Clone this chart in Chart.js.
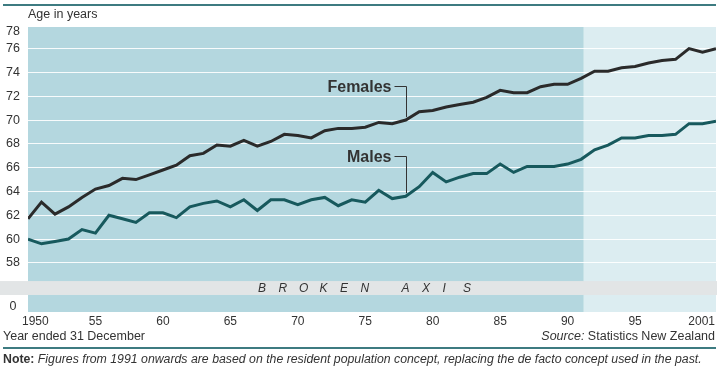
<!DOCTYPE html>
<html><head><meta charset="utf-8">
<style>html,body{margin:0;padding:0;background:#fff;}#wrap{position:relative;width:717px;height:377px;}</style>
<script src="https://cdn.jsdelivr.net/npm/chart.js@4.4.1/dist/chart.umd.min.js"></script>
</head><body><div id="wrap"><canvas id="c"></canvas></div>
<script>
const years = [1950,1951,1952,1953,1954,1955,1956,1957,1958,1959,1960,1961,1962,1963,1964,1965,1966,1967,1968,1969,1970,1971,1972,1973,1974,1975,1976,1977,1978,1979,1980,1981,1982,1983,1984,1985,1986,1987,1988,1989,1990,1991,1992,1993,1994,1995,1996,1997,1998,1999,2000,2001];
const females = [61.7,63.1,62.1,62.7,63.5,64.2,64.5,65.1,65.0,65.4,65.8,66.2,67.0,67.2,67.9,67.8,68.3,67.8,68.2,68.8,68.7,68.5,69.1,69.3,69.3,69.4,69.8,69.7,70.0,70.7,70.8,71.1,71.3,71.5,71.9,72.5,72.3,72.3,72.8,73.0,73.0,73.5,74.1,74.1,74.4,74.5,74.8,75.0,75.1,76.0,75.7,76.0];
const males = [60.0,59.6,59.8,60.0,60.8,60.5,62.0,61.7,61.4,62.2,62.2,61.8,62.7,63.0,63.2,62.7,63.3,62.4,63.3,63.3,62.9,63.3,63.5,62.8,63.3,63.1,64.1,63.4,63.6,64.4,65.6,64.8,65.2,65.5,65.5,66.3,65.6,66.1,66.1,66.1,66.3,66.7,67.5,67.9,68.5,68.5,68.7,68.7,68.8,69.7,69.7,69.9];
const yGridTicks = [58,60,62,64,66,68,70,72,74,76];
const xTickYears = [1950,1955,1960,1965,1970,1975,1980,1985,1990,1995,2001];
const xTickLabels = ['1950','55','60','65','70','75','80','85','90','95','2001'];
const seriesNames = ['Females','Males'];
const splitYear = 1991.2;      // resident population concept from 1991
const labelAnchorYear = 1978;  // where the series labels point

// broken axis: bottom value stands for 0
const Y_MIN = 53.87, Y_MAX = 77.82, ZERO_POS = 54.3, TOP_LABEL_POS = 77.4;
const BAND_LO = 55.3, BAND_HI = 56.47;

const FONT = '"Liberation Sans", Arial, sans-serif';
const TXT = '#333';

const decor = {
  id: 'decor',
  beforeDraw(chart) {
    const {ctx, chartArea: a, scales: {x}} = chart;
    const sx = x.getPixelForValue(splitYear);
    ctx.save();
    ctx.fillStyle = '#b4d7df';
    ctx.fillRect(a.left, a.top, sx - a.left, a.bottom - a.top);
    ctx.fillStyle = '#dcedf1';
    ctx.fillRect(sx, a.top, a.right - sx, a.bottom - a.top);
    ctx.restore();
  },
  beforeDatasetsDraw(chart) {
    const {ctx, scales: {y}} = chart;
    const t = y.getPixelForValue(BAND_HI), b = y.getPixelForValue(BAND_LO);
    ctx.save();
    ctx.fillStyle = '#e2e5e6';
    ctx.fillRect(0, t, chart.width, b - t);
    ctx.fillStyle = TXT;
    ctx.font = 'italic 12px ' + FONT;
    ctx.textBaseline = 'middle';
    ctx.textAlign = 'left';
    const s = 'BROKEN AXIS';
    for (let i = 0; i < s.length; i++) ctx.fillText(s[i], 258 + i * 20.5, (t + b) / 2 + 1);
    ctx.restore();
  },
  afterDatasetsDraw(chart) {
    const {ctx, scales: {x, y}} = chart;
    const i = years.indexOf(labelAnchorYear);
    const px = Math.round(x.getPixelForValue(labelAnchorYear)) + 0.5;
    const items = [[seriesNames[0], 72.85, females[i]], [seriesNames[1], 66.97, males[i]]];
    ctx.save();
    ctx.strokeStyle = TXT; ctx.lineWidth = 1;
    ctx.fillStyle = TXT;
    ctx.font = 'bold 16px ' + FONT;
    ctx.textBaseline = 'middle';
    ctx.textAlign = 'right';
    items.forEach(([name, top, val]) => {
      const ty = Math.round(y.getPixelForValue(top)) + 0.5;
      const by = y.getPixelForValue(val) - 3;
      ctx.beginPath();
      ctx.moveTo(px - 12, ty); ctx.lineTo(px, ty); ctx.lineTo(px, by);
      ctx.stroke();
      ctx.fillText(name, px - 15, ty + 1);
    });
    ctx.restore();
  },
  afterDraw(chart) {
    const {ctx, scales: {x}} = chart;
    ctx.save();
    ctx.strokeStyle = '#3d7b81'; ctx.lineWidth = 2;
    ctx.beginPath(); ctx.moveTo(3, 5); ctx.lineTo(716, 5); ctx.stroke();
    ctx.beginPath(); ctx.moveTo(3, 348); ctx.lineTo(716, 348); ctx.stroke();
    ctx.fillStyle = TXT;
    ctx.textBaseline = 'middle';
    ctx.font = '12px ' + FONT;
    xTickYears.forEach((yr, k) => {
      let px = x.getPixelForValue(yr);
      if (k === 0) { ctx.textAlign = 'left'; px -= 6; }
      else if (k === xTickYears.length - 1) { ctx.textAlign = 'right'; px -= 1; }
      else ctx.textAlign = 'center';
      ctx.fillText(xTickLabels[k], px, 322);
    });
    ctx.font = '12.5px ' + FONT;
    ctx.textAlign = 'left';
    ctx.fillText('Age in years', 28, 15);
    ctx.fillText('Year ended 31 December', 3, 337);
    ctx.textAlign = 'right';
    const src = ' Statistics New Zealand';
    ctx.fillText(src, 715, 337);
    const w = ctx.measureText(src).width;
    ctx.font = 'italic 12.5px ' + FONT;
    ctx.fillText('Source:', 715 - w, 337);
    ctx.textAlign = 'left';
    ctx.font = 'bold 12.3px ' + FONT;
    ctx.fillText('Note:', 3, 360);
    const nw = ctx.measureText('Note: ').width;
    ctx.font = 'italic 12.3px ' + FONT;
    ctx.fillText('Figures from 1991 onwards are based on the resident population concept, replacing the de facto concept used in the past.', 3 + nw, 360);
    ctx.restore();
  }
};

new Chart(document.getElementById('c'), {
  type: 'line',
  data: {
    datasets: [
      {label: seriesNames[0], data: years.map((yr, i) => ({x: yr, y: females[i]})), borderColor: '#2a2a2a', borderWidth: 3, pointRadius: 0, tension: 0, borderJoinStyle: 'miter'},
      {label: seriesNames[1], data: years.map((yr, i) => ({x: yr, y: males[i]})), borderColor: '#17595d', borderWidth: 3, pointRadius: 0, tension: 0, borderJoinStyle: 'miter'}
    ]
  },
  options: {
    responsive: true, maintainAspectRatio: false, animation: false,
    layout: {padding: {top: 27, right: 1, bottom: 65, left: 0}, autoPadding: false},
    plugins: {legend: {display: false}, tooltip: {enabled: false}},
    scales: {
      x: {
        type: 'linear', min: 1950, max: 2001,
        grid: {display: false}, border: {display: false},
        ticks: {display: false},
        afterFit(s) { s.height = 0; }
      },
      y: {
        type: 'linear', min: Y_MIN, max: Y_MAX,
        border: {display: false},
        afterBuildTicks(s) {
          s.ticks = [{value: ZERO_POS}].concat(yGridTicks.map(v => ({value: v})), [{value: TOP_LABEL_POS}]);
        },
        afterFit(s) { s.width = 28; },
        grid: {
          drawTicks: false,
          color: c => (c.tick && yGridTicks.includes(c.tick.value)) ? 'rgba(255,255,255,0.9)' : 'rgba(0,0,0,0)',
          lineWidth: 1
        },
        ticks: {
          padding: 8, crossAlign: 'center', color: TXT,
          font: {family: FONT, size: 12.5},
          callback: v => v === ZERO_POS ? '0' : (v === TOP_LABEL_POS ? '78' : String(v))
        }
      }
    }
  },
  plugins: [decor]
});
</script></body></html>
